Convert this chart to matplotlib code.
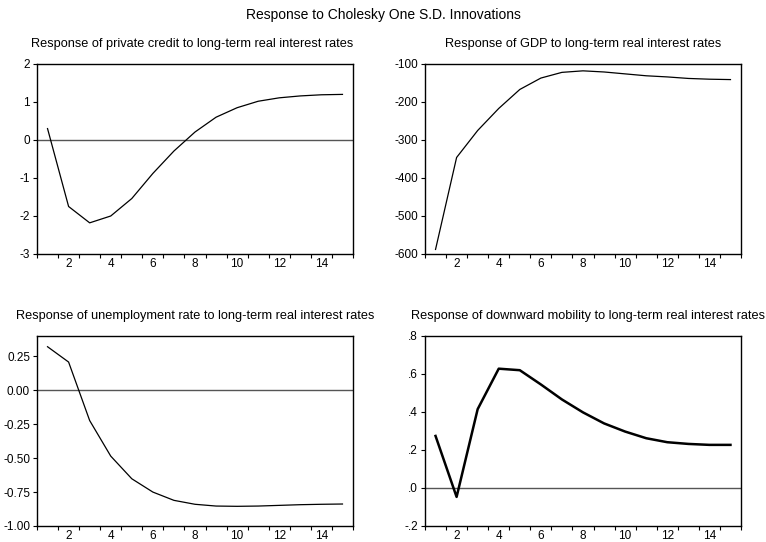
import matplotlib
matplotlib.use("Agg")
import matplotlib.pyplot as plt
from matplotlib.ticker import FixedLocator, FuncFormatter, NullFormatter

plt.rcParams['font.family'] = ['Liberation Sans', 'DejaVu Sans']
plt.rcParams['axes.unicode_minus'] = False

periods = list(range(1, 16))

credit = [0.30, -1.75, -2.18, -2.00, -1.54, -0.88, -0.29, 0.21, 0.60, 0.85,
          1.02, 1.11, 1.16, 1.19, 1.20]
gdp = [-588, -346, -275, -217, -167, -137, -122, -118, -121, -126,
       -131, -134, -138, -140, -141]
unemp = [0.321, 0.208, -0.223, -0.485, -0.652, -0.750, -0.811, -0.840, -0.853, -0.855,
         -0.853, -0.848, -0.843, -0.840, -0.838]
mobility = [0.274, -0.047, 0.415, 0.628, 0.620, 0.545, 0.466, 0.398, 0.340, 0.297,
            0.262, 0.241, 0.232, 0.227, 0.227]

titles = ["Response of private credit to long-term real interest rates",
          "Response of GDP to long-term real interest rates",
          "Response of unemployment rate to long-term real interest rates",
          "Response of downward mobility to long-term real interest rates"]
series = [credit, gdp, unemp, mobility]
ylims = [(-3, 2), (-600, -100), (-1.0, 0.4), (-0.2, 0.8)]
yticks = [[-3, -2, -1, 0, 1, 2],
          [-600, -500, -400, -300, -200, -100],
          [-1.0, -0.75, -0.5, -0.25, 0.0, 0.25],
          [-0.2, 0.0, 0.2, 0.4, 0.6, 0.8]]


def fmt_int(v, pos):
    return "%d" % round(v)


def fmt_2(v, pos):
    return "%.2f" % v


def fmt_dot(v, pos):
    s = "%.1f" % v
    return s.replace("0.", ".")


formatters = [fmt_int, fmt_int, fmt_2, fmt_dot]
widths = [0.9, 0.9, 0.9, 1.8]
title_x = [0.49, 0.5, 0.5, 0.515]

W, H = 766, 542
fig = plt.figure(figsize=(W / 100, H / 100), dpi=100)
fig.text(383 / W, 1 - 15 / H, "Response to Cholesky One S.D. Innovations",
         ha="center", va="center", fontsize=10)

boxes = [(37, 64), (425, 64), (37, 336), (425, 336)]
for i in range(4):
    x0, y0 = boxes[i]
    ax = fig.add_axes([x0 / W, 1 - (y0 + 190) / H, 316 / W, 190 / H])
    ax.plot(periods, series[i], color="black", lw=widths[i])
    ax.axhline(0, color="#555555", lw=1.0, zorder=1)
    ax.set_xlim(0.5, 15.5)
    ax.set_ylim(*ylims[i])
    ax.set_yticks(yticks[i])
    ax.yaxis.set_major_formatter(FuncFormatter(formatters[i]))
    # tick marks between periods, labels on even periods
    ax.xaxis.set_major_locator(FixedLocator([p + 0.5 for p in range(0, 16)]))
    ax.xaxis.set_major_formatter(NullFormatter())
    ax.xaxis.set_minor_locator(FixedLocator([2, 4, 6, 8, 10, 12, 14]))
    ax.xaxis.set_minor_formatter(FuncFormatter(lambda v, p: "%d" % v))
    ax.tick_params(axis="x", which="minor", length=0, labelsize=8.5, pad=3)
    ax.tick_params(axis="x", which="major", length=3, width=0.8)
    ax.tick_params(axis="y", length=3, width=0.8, labelsize=8.5, pad=2)
    for sp in ax.spines.values():
        sp.set_linewidth(1.0)
    ax.set_title(titles[i], fontsize=9.2, pad=12, x=title_x[i])

fig.savefig("out.png", dpi=100)
